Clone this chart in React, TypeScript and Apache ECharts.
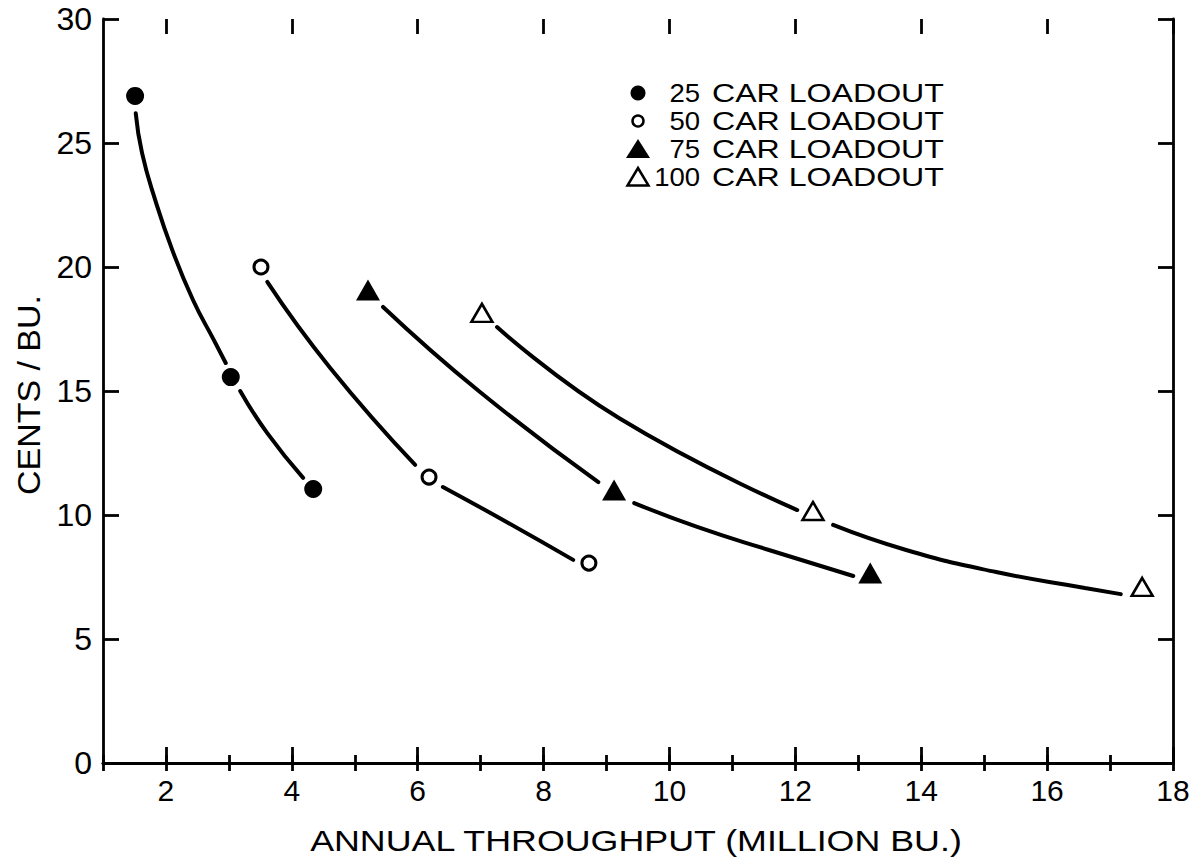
import React, { useEffect, useRef } from "react";
import * as echarts from "echarts";

// ---- measured data points (x = million bu., y = cents/bu.) ----
const markers25 = [[1.51, 26.9], [3.03, 15.56], [4.34, 11.05]];
const markers50 = [[3.51, 20.0], [6.18, 11.53], [8.72, 8.06]];
const markers75 = [[5.21, 19.07], [9.12, 11.01], [13.19, 7.66]];
const markers100 = [[7.02, 18.15], [12.28, 10.16], [17.51, 7.1]];

// ---- fitted curve segments ----
const curve25a = [[1.52, 26.2], [1.62, 24.6], [1.83, 22.7], [2.1, 20.69], [2.43, 18.67], [2.76, 17.06], [2.95, 16.13]];
const curve25b = [[3.18, 15.0], [3.61, 13.3], [4.18, 11.5]];
const curve50a = [[3.61, 19.4], [4.61, 15.93], [5.96, 12.02]];
const curve50b = [[6.4, 11.13], [7.44, 9.68], [8.47, 8.19]];
const curve75a = [[5.45, 18.39], [6.99, 14.96], [8.87, 11.33]];
const curve75b = [[9.44, 10.48], [10.44, 9.52], [11.58, 8.59], [12.92, 7.54]];
const curve100a = [[7.26, 17.58], [9.21, 13.89], [12.03, 10.2]];
const curve100b = [[12.6, 9.6], [13.76, 8.59], [15.19, 7.7], [16.6, 7.06], [17.17, 6.81]];

// ---- axis ranges / tick steps ----
const xMin = 1;
const xMax = 18;
const xMinorStep = 1;
const xMajorMin = 2;
const xMajorStep = 2;
const yMin = 0;
const yMax = 30;
const yStep = 5;

const legendNums = ["25", "50", "75", "100"];
const legendText = "CAR LOADOUT";
const xTitle = "ANNUAL THROUGHPUT (MILLION BU.)";
const yTitle = "CENTS / BU.";

const FONT = '"Liberation Sans", Arial, sans-serif';

function measure(text: string, size: number) {
  const c = document.createElement("canvas").getContext("2d");
  if (!c) return text.length * size * 0.6;
  c.font = `${size}px "Liberation Sans"`;
  return c.measureText(text).width;
}

export default function App() {
  const ref = useRef<HTMLDivElement>(null);
  useEffect(() => {
    if (!ref.current) return;
    const chart = echarts.init(ref.current, null, { renderer: "svg" });
    const black = "#000";
    const W = 1199;
    const gridLeft = 103;
    const gridRight = 26;
    const plotW = W - gridLeft - gridRight;
    const major2Left = gridLeft + ((xMajorMin - xMin) / (xMax - xMin)) * plotW;
    const axisLine = { show: true, lineStyle: { color: black, width: 2.8 } };
    const tickStyle = { color: black, width: 2.8 };

    const lineSeries = (data: number[][]) => ({
      type: "line",
      data,
      smooth: 0.5,
      showSymbol: false,
      symbol: "none",
      lineStyle: { color: black, width: 4, cap: "round" },
      z: 2,
      silent: true,
    });

    const xTitleScale = 655 / measure(xTitle, 30);
    const yTitleScale = 200 / measure(yTitle, 31);
    const legScale = 232 / measure(legendText, 25);
    const rowsY = [93, 121, 149, 177];
    const markerX = 638;
    const numRight = 700;
    const textLeft = 712;

    const legendMarkers: any[] = [
      { type: "circle", shape: { cx: markerX, cy: rowsY[0], r: 7.5 }, style: { fill: black } },
      { type: "circle", shape: { cx: markerX, cy: rowsY[1], r: 5.5 }, style: { fill: "#fff", stroke: black, lineWidth: 2.5 } },
      {
        type: "polygon",
        shape: { points: [[markerX, rowsY[2] - 10], [markerX + 12, rowsY[2] + 9], [markerX - 12, rowsY[2] + 9]] },
        style: { fill: black },
      },
      {
        type: "polygon",
        shape: { points: [[markerX, rowsY[3] - 9], [markerX + 10.5, rowsY[3] + 8.5], [markerX - 10.5, rowsY[3] + 8.5]] },
        style: { fill: "#fff", stroke: black, lineWidth: 2.5 },
      },
    ];
    const legendTexts: any[] = [];
    legendNums.forEach((n, i) => {
      legendTexts.push({
        type: "text",
        x: numRight,
        y: rowsY[i],
        scaleX: 1.1,
        style: { text: n, fontSize: 25, fontFamily: FONT, fill: black, align: "right", verticalAlign: "middle", textAlign: "right", textVerticalAlign: "middle" },
      });
      legendTexts.push({
        type: "text",
        x: textLeft,
        y: rowsY[i],
        scaleX: legScale,
        style: { text: legendText, fontSize: 25, fontFamily: FONT, fill: black, align: "left", verticalAlign: "middle", textAlign: "left", textVerticalAlign: "middle" },
      });
    });

    const minorX = { type: "value", min: xMin, max: xMax, interval: xMinorStep, splitLine: { show: false }, gridIndex: 0 };
    const majorX = { type: "value", min: xMajorMin, max: xMax, interval: xMajorStep, splitLine: { show: false }, gridIndex: 1 };

    chart.setOption({
      animation: false,
      backgroundColor: "#fff",
      grid: [
        { left: gridLeft, right: gridRight, top: 19, bottom: 100 },
        { left: major2Left, right: gridRight, top: 19, bottom: 100 },
      ],
      xAxis: [
        {
          ...minorX,
          position: "bottom",
          axisLine,
          axisTick: { show: true, inside: true, length: 8, lineStyle: tickStyle },
          axisLabel: {
            show: true,
            fontSize: 30,
            fontFamily: FONT,
            color: black,
            margin: 12,
            formatter: (v: number) => (v % xMajorStep === 0 ? String(v) : ""),
          },
        },
        {
          ...minorX,
          position: "top",
          axisLine,
          axisTick: { show: true, inside: true, length: 8, lineStyle: tickStyle },
          axisLabel: { show: false },
        },
        {
          ...majorX,
          position: "bottom",
          axisLine: { show: false },
          axisTick: { show: true, inside: true, length: 16, lineStyle: tickStyle },
          axisLabel: { show: false },
        },
        {
          ...majorX,
          position: "top",
          axisLine: { show: false },
          axisTick: { show: true, inside: true, length: 15, lineStyle: tickStyle },
          axisLabel: { show: false },
        },
      ],
      yAxis: [
        {
          type: "value",
          min: yMin,
          max: yMax,
          interval: yStep,
          position: "left",
          gridIndex: 0,
          splitLine: { show: false },
          axisLine,
          axisTick: { show: true, inside: true, length: 16, lineStyle: tickStyle },
          axisLabel: { show: true, fontSize: 32, fontFamily: FONT, color: black, margin: 11 },
        },
        {
          type: "value",
          min: yMin,
          max: yMax,
          interval: yStep,
          position: "right",
          gridIndex: 0,
          splitLine: { show: false },
          axisLine,
          axisTick: { show: true, inside: true, length: 15, lineStyle: tickStyle },
          axisLabel: { show: false },
        },
        { type: "value", min: yMin, max: yMax, gridIndex: 1, show: false },
      ],
      series: [
        lineSeries(curve25a),
        lineSeries(curve25b),
        lineSeries(curve50a),
        lineSeries(curve50b),
        lineSeries(curve75a),
        lineSeries(curve75b),
        lineSeries(curve100a),
        lineSeries(curve100b),
        { type: "scatter", name: "25 CAR LOADOUT", data: markers25, symbol: "circle", symbolSize: 18, itemStyle: { color: black, opacity: 1 }, z: 3 },
        {
          type: "scatter",
          name: "50 CAR LOADOUT",
          data: markers50,
          symbol: "circle",
          symbolSize: 14,
          itemStyle: { color: "#fff", borderColor: black, borderWidth: 3, opacity: 1 },
          z: 3,
        },
        { type: "scatter", name: "75 CAR LOADOUT", data: markers75, symbol: "triangle", symbolSize: [24, 21], itemStyle: { color: black, opacity: 1 }, z: 3 },
        {
          type: "scatter",
          name: "100 CAR LOADOUT",
          data: markers100,
          symbol: "triangle",
          symbolSize: [21, 18],
          itemStyle: { color: "#fff", borderColor: black, borderWidth: 2.5, opacity: 1 },
          z: 3,
        },
      ],
      graphic: [
        ...legendMarkers,
        ...legendTexts,
        {
          type: "text",
          x: 636,
          y: 841,
          scaleX: xTitleScale,
          style: { text: xTitle, fontSize: 30, fontFamily: FONT, fill: black, align: "center", verticalAlign: "middle", textAlign: "center", textVerticalAlign: "middle" },
        },
        {
          type: "text",
          x: 30,
          y: 395,
          rotation: Math.PI / 2,
          scaleX: yTitleScale,
          style: { text: yTitle, fontSize: 31, fontFamily: FONT, fill: black, align: "center", verticalAlign: "middle", textAlign: "center", textVerticalAlign: "middle" },
        },
      ],
    });
    return () => chart.dispose();
  }, []);
  return (
    <div
      ref={ref}
      style={{ position: "absolute", left: 0, top: 0, width: 1199, height: 863, background: "#fff" }}
    />
  );
}
